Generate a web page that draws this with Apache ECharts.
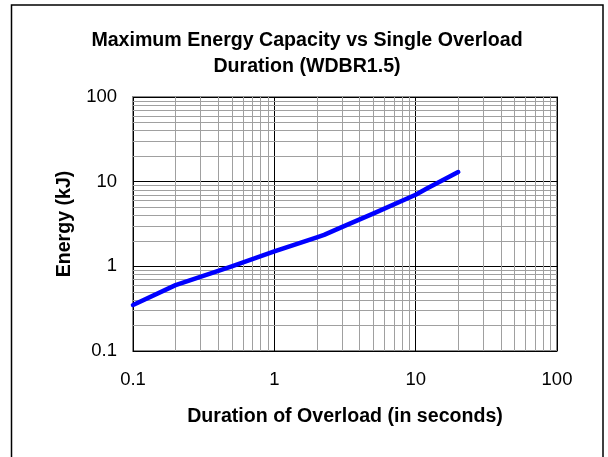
<!DOCTYPE html>
<html>
<head>
    <meta charset="utf-8">
    <title>Maximum Energy Capacity vs Single Overload Duration</title>
    <script src="https://cdn.jsdelivr.net/npm/echarts/dist/echarts.min.js"></script>
    <style>
        body { margin: 0; background: #fff; }
    </style>
</head>
<body>
<div id="chart-container" style="width: 608px; height: 457px;"></div>
<script>
    // data (log-log)
    var durations = [0.1, 0.2, 0.5, 1, 2, 2.25, 3, 5, 10, 12, 20];            // seconds
    var energies  = [0.35, 0.6, 1.0, 1.5, 2.2, 2.35, 2.9, 4.2, 7.0, 8.3, 13.0]; // kJ
    var xTickLabels = ['0.1', '1', '10', '100'];
    var yTickLabels = ['0.1', '1', '10', '100'];

    var font = '"Liberation Sans", Arial, sans-serif';

    // minor grid lines at 2..9 of each decade
    function minorLines(lo, hi) {
        var out = [];
        for (var d = lo; d < hi; d *= 10) {
            for (var k = 2; k <= 9; k++) {
                out.push(+(d * k).toPrecision(3));
            }
        }
        return out;
    }
    var minorX = minorLines(0.1, 100).map(function (v) { return { xAxis: v }; });
    var minorY = minorLines(0.1, 100).map(function (v) { return { yAxis: v }; });

    var points = durations.map(function (d, i) { return [d, energies[i]]; });

    var option = {
        animation: false,
        backgroundColor: '#fff',
        title: {
            text: 'Maximum Energy Capacity vs Single Overload\nDuration (WDBR1.5)',
            left: 307,
            top: 28,
            padding: 0,
            textAlign: 'center',
            textStyle: {
                fontFamily: font,
                fontSize: 19.6,
                fontWeight: 'bold',
                color: '#000',
                lineHeight: 26
            }
        },
        graphic: [{
            type: 'rect',
            shape: { x: 11.5, y: 5, width: 591.5, height: 480 },
            style: { fill: 'none', stroke: '#000', lineWidth: 1.5 },
            silent: true
        }],
        grid: {
            left: 133,
            right: 51,
            top: 97,
            bottom: 106,
            show: true,
            borderColor: '#8c8c8c',
            borderWidth: 2,
            backgroundColor: 'transparent'
        },
        xAxis: {
            type: 'log',
            logBase: 10,
            min: 0.1,
            max: 100,
            name: 'Duration of Overload (in seconds)',
            nameLocation: 'middle',
            nameGap: 56,
            nameTextStyle: { fontFamily: font, fontSize: 19.6, fontWeight: 'bold', color: '#000' },
            axisLine: { show: false },
            axisTick: { show: false },
            axisLabel: {
                fontFamily: font, fontSize: 18.5, color: '#000', margin: 19, lineHeight: 19,
                formatter: function (v) {
                    var i = Math.round(Math.log10(v)) + 1;
                    return xTickLabels[i];
                }
            },
            splitLine: { show: true, lineStyle: { color: '#000', width: 1 } }
        },
        yAxis: {
            type: 'log',
            logBase: 10,
            min: 0.1,
            max: 100,
            name: 'Energy (kJ)',
            nameLocation: 'middle',
            nameGap: 58,
            nameTextStyle: { fontFamily: font, fontSize: 19.6, fontWeight: 'bold', color: '#000' },
            axisLine: { show: false },
            axisTick: { show: false },
            axisLabel: {
                fontFamily: font, fontSize: 18.5, color: '#000', margin: 16,
                formatter: function (v) {
                    var i = Math.round(Math.log10(v)) + 1;
                    return yTickLabels[i];
                }
            },
            splitLine: { show: true, lineStyle: { color: '#000', width: 1 } }
        },
        series: [
            {
                name: 'minor grid',
                type: 'line',
                data: [],
                z: 1,
                silent: true,
                markLine: {
                    silent: true,
                    symbol: ['none', 'none'],
                    label: { show: false },
                    lineStyle: { color: '#a0a0a0', width: 1, type: 'solid' },
                    emphasis: { disabled: true },
                    data: minorX.concat(minorY)
                }
            },
            {
                name: 'Energy',
                type: 'line',
                data: points,
                z: 5,
                symbol: 'none',
                lineStyle: { color: '#0000ff', width: 4.5, cap: 'round', join: 'round' }
            }
        ]
    };

    var chart = echarts.init(document.getElementById('chart-container'));
    chart.setOption(option);
</script>
</body>
</html>
